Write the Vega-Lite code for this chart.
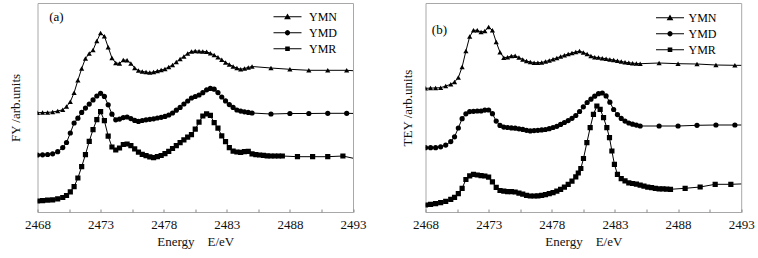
{
  "$schema": "https://vega.github.io/schema/vega-lite/v6.json",
  "padding": {"left": 8.5, "top": 2, "right": 0, "bottom": 0},
  "config": {
    "font": "Liberation Serif",
    "view": {"stroke": "#a8a8a8", "strokeWidth": 1},
    "axis": {"grid": false, "labelFont": "Liberation Serif", "titleFont": "Liberation Serif", "labelFontSize": 13, "titleFontSize": 13, "titleFontWeight": "normal", "labelColor": "#111", "titleColor": "#111"},
    "concat": {"spacing": 34}
  },
  "datasets": {
    "a": [
      {"s":"YMN","E":2468.0,"v":99.3},{"s":"YMN","E":2468.4,"v":99.5},{"s":"YMN","E":2468.8,"v":99.6},{"s":"YMN","E":2469.2,"v":100},{"s":"YMN","E":2469.6,"v":101},{"s":"YMN","E":2470.0,"v":102.2},{"s":"YMN","E":2470.3,"v":105.5},{"s":"YMN","E":2470.6,"v":110.2},{"s":"YMN","E":2470.9,"v":119.3},{"s":"YMN","E":2471.2,"v":131.7},{"s":"YMN","E":2471.5,"v":143.4},{"s":"YMN","E":2471.8,"v":153.6},{"s":"YMN","E":2472.1,"v":158.4},{"s":"YMN","E":2472.4,"v":161.9},{"s":"YMN","E":2472.7,"v":171},{"s":"YMN","E":2473.0,"v":178.9},{"s":"YMN","E":2473.3,"v":175.8},{"s":"YMN","E":2473.6,"v":164.8},{"s":"YMN","E":2473.9,"v":154},{"s":"YMN","E":2474.2,"v":149},{"s":"YMN","E":2474.5,"v":148.6},{"s":"YMN","E":2474.8,"v":152},{"s":"YMN","E":2475.1,"v":151.7},{"s":"YMN","E":2475.4,"v":148.6},{"s":"YMN","E":2475.7,"v":144},{"s":"YMN","E":2476.0,"v":141.4},{"s":"YMN","E":2476.3,"v":140.5},{"s":"YMN","E":2476.6,"v":140},{"s":"YMN","E":2476.9,"v":139.4},{"s":"YMN","E":2477.2,"v":140},{"s":"YMN","E":2477.5,"v":141},{"s":"YMN","E":2477.8,"v":142},{"s":"YMN","E":2478.1,"v":143.1},{"s":"YMN","E":2478.4,"v":145},{"s":"YMN","E":2478.7,"v":147},{"s":"YMN","E":2479.0,"v":150},{"s":"YMN","E":2479.3,"v":153},{"s":"YMN","E":2479.6,"v":155.6},{"s":"YMN","E":2479.9,"v":158.6},{"s":"YMN","E":2480.2,"v":160.5},{"s":"YMN","E":2480.5,"v":161},{"s":"YMN","E":2480.8,"v":160.8},{"s":"YMN","E":2481.1,"v":160.6},{"s":"YMN","E":2481.4,"v":160.2},{"s":"YMN","E":2481.7,"v":158.8},{"s":"YMN","E":2482.0,"v":157},{"s":"YMN","E":2482.3,"v":154.7},{"s":"YMN","E":2482.6,"v":152.2},{"s":"YMN","E":2482.9,"v":149.6},{"s":"YMN","E":2483.2,"v":147.6},{"s":"YMN","E":2483.5,"v":145.6},{"s":"YMN","E":2483.8,"v":143.9},{"s":"YMN","E":2484.1,"v":142.7},{"s":"YMN","E":2484.4,"v":143.6},{"s":"YMN","E":2484.7,"v":144.5},{"s":"YMN","E":2485.0,"v":145.5},{"s":"YMN","E":2486.5,"v":144},{"s":"YMN","E":2488.0,"v":142.7},{"s":"YMN","E":2489.5,"v":141.7},{"s":"YMN","E":2491.0,"v":141.7},{"s":"YMN","E":2492.5,"v":141.7},{"s":"YMN","E":2494.0,"v":140.5},
      {"s":"YMD","E":2468.0,"v":57},{"s":"YMD","E":2468.4,"v":57.2},{"s":"YMD","E":2468.8,"v":57.5},{"s":"YMD","E":2469.2,"v":58.2},{"s":"YMD","E":2469.6,"v":60.3},{"s":"YMD","E":2470.0,"v":64.4},{"s":"YMD","E":2470.3,"v":69.5},{"s":"YMD","E":2470.6,"v":79},{"s":"YMD","E":2470.9,"v":89},{"s":"YMD","E":2471.2,"v":93.8},{"s":"YMD","E":2471.5,"v":99.6},{"s":"YMD","E":2471.8,"v":103.9},{"s":"YMD","E":2472.1,"v":107.9},{"s":"YMD","E":2472.4,"v":112.1},{"s":"YMD","E":2472.7,"v":116},{"s":"YMD","E":2473.0,"v":118.7},{"s":"YMD","E":2473.3,"v":115.6},{"s":"YMD","E":2473.6,"v":107.2},{"s":"YMD","E":2473.9,"v":97.8},{"s":"YMD","E":2474.2,"v":92.2},{"s":"YMD","E":2474.5,"v":92.9},{"s":"YMD","E":2474.8,"v":94.4},{"s":"YMD","E":2475.1,"v":95},{"s":"YMD","E":2475.4,"v":93.4},{"s":"YMD","E":2475.7,"v":91.6},{"s":"YMD","E":2476.0,"v":90.6},{"s":"YMD","E":2476.3,"v":91.5},{"s":"YMD","E":2476.6,"v":92.2},{"s":"YMD","E":2476.9,"v":92.7},{"s":"YMD","E":2477.2,"v":93.2},{"s":"YMD","E":2477.5,"v":94},{"s":"YMD","E":2477.8,"v":94.7},{"s":"YMD","E":2478.1,"v":95.6},{"s":"YMD","E":2478.4,"v":97},{"s":"YMD","E":2478.7,"v":99},{"s":"YMD","E":2479.0,"v":101.8},{"s":"YMD","E":2479.3,"v":104.6},{"s":"YMD","E":2479.6,"v":108},{"s":"YMD","E":2479.9,"v":111},{"s":"YMD","E":2480.2,"v":114},{"s":"YMD","E":2480.5,"v":115.5},{"s":"YMD","E":2480.8,"v":117},{"s":"YMD","E":2481.1,"v":119.3},{"s":"YMD","E":2481.4,"v":122.2},{"s":"YMD","E":2481.7,"v":123.6},{"s":"YMD","E":2482.0,"v":122.8},{"s":"YMD","E":2482.3,"v":119.4},{"s":"YMD","E":2482.6,"v":115},{"s":"YMD","E":2482.9,"v":111.1},{"s":"YMD","E":2483.2,"v":107.4},{"s":"YMD","E":2483.5,"v":104.6},{"s":"YMD","E":2483.8,"v":102},{"s":"YMD","E":2484.1,"v":100.9},{"s":"YMD","E":2484.4,"v":100.2},{"s":"YMD","E":2484.7,"v":99.6},{"s":"YMD","E":2485.0,"v":99},{"s":"YMD","E":2486.5,"v":98},{"s":"YMD","E":2488.0,"v":98.5},{"s":"YMD","E":2489.5,"v":98.5},{"s":"YMD","E":2491.0,"v":98.7},{"s":"YMD","E":2492.5,"v":98.7},{"s":"YMD","E":2494.0,"v":98.3},
      {"s":"YMR","E":2468.0,"v":11},{"s":"YMR","E":2468.4,"v":11.3},{"s":"YMR","E":2468.8,"v":11.8},{"s":"YMR","E":2469.2,"v":12.2},{"s":"YMR","E":2469.6,"v":13.1},{"s":"YMR","E":2470.0,"v":14.5},{"s":"YMR","E":2470.3,"v":16.5},{"s":"YMR","E":2470.6,"v":20.2},{"s":"YMR","E":2470.9,"v":25.3},{"s":"YMR","E":2471.2,"v":34},{"s":"YMR","E":2471.5,"v":45.3},{"s":"YMR","E":2471.8,"v":57.4},{"s":"YMR","E":2472.1,"v":70.7},{"s":"YMR","E":2472.4,"v":82.4},{"s":"YMR","E":2472.7,"v":92.3},{"s":"YMR","E":2473.0,"v":100.3},{"s":"YMR","E":2473.3,"v":91.3},{"s":"YMR","E":2473.6,"v":75.9},{"s":"YMR","E":2473.9,"v":65},{"s":"YMR","E":2474.2,"v":62},{"s":"YMR","E":2474.5,"v":64},{"s":"YMR","E":2474.8,"v":67.5},{"s":"YMR","E":2475.1,"v":68},{"s":"YMR","E":2475.4,"v":66.4},{"s":"YMR","E":2475.7,"v":63.1},{"s":"YMR","E":2476.0,"v":59.8},{"s":"YMR","E":2476.3,"v":57.6},{"s":"YMR","E":2476.6,"v":56.3},{"s":"YMR","E":2476.9,"v":55.2},{"s":"YMR","E":2477.2,"v":54.3},{"s":"YMR","E":2477.5,"v":55.3},{"s":"YMR","E":2477.8,"v":56.5},{"s":"YMR","E":2478.1,"v":58.4},{"s":"YMR","E":2478.4,"v":60.7},{"s":"YMR","E":2478.7,"v":63.5},{"s":"YMR","E":2479.0,"v":66.4},{"s":"YMR","E":2479.3,"v":69.3},{"s":"YMR","E":2479.6,"v":72.1},{"s":"YMR","E":2479.9,"v":74.8},{"s":"YMR","E":2480.2,"v":77.3},{"s":"YMR","E":2480.5,"v":82.8},{"s":"YMR","E":2480.8,"v":89.8},{"s":"YMR","E":2481.1,"v":96},{"s":"YMR","E":2481.4,"v":98.2},{"s":"YMR","E":2481.7,"v":96.6},{"s":"YMR","E":2482.0,"v":89.3},{"s":"YMR","E":2482.3,"v":83.8},{"s":"YMR","E":2482.6,"v":76.2},{"s":"YMR","E":2482.9,"v":70.4},{"s":"YMR","E":2483.2,"v":64.4},{"s":"YMR","E":2483.5,"v":60.9},{"s":"YMR","E":2483.8,"v":60},{"s":"YMR","E":2484.1,"v":59.6},{"s":"YMR","E":2484.4,"v":60.3},{"s":"YMR","E":2484.7,"v":60.6},{"s":"YMR","E":2485.0,"v":58.1},{"s":"YMR","E":2485.3,"v":57.4},{"s":"YMR","E":2485.6,"v":57},{"s":"YMR","E":2485.9,"v":56.6},{"s":"YMR","E":2486.2,"v":56.2},{"s":"YMR","E":2486.5,"v":56},{"s":"YMR","E":2486.8,"v":56},{"s":"YMR","E":2487.1,"v":56},{"s":"YMR","E":2487.4,"v":56},{"s":"YMR","E":2488.6,"v":55.3},{"s":"YMR","E":2489.8,"v":55.3},{"s":"YMR","E":2491.0,"v":55.3},{"s":"YMR","E":2492.2,"v":56},{"s":"YMR","E":2494.0,"v":51}
    ],
    "b": [
      {"s":"YMN","E":2468.0,"v":123.7},{"s":"YMN","E":2468.4,"v":123.9},{"s":"YMN","E":2468.8,"v":124.1},{"s":"YMN","E":2469.2,"v":124.3},{"s":"YMN","E":2469.6,"v":126},{"s":"YMN","E":2470.0,"v":127.7},{"s":"YMN","E":2470.3,"v":130},{"s":"YMN","E":2470.6,"v":134.5},{"s":"YMN","E":2470.9,"v":145},{"s":"YMN","E":2471.2,"v":161},{"s":"YMN","E":2471.5,"v":175.4},{"s":"YMN","E":2471.8,"v":181.7},{"s":"YMN","E":2472.1,"v":181.7},{"s":"YMN","E":2472.4,"v":180},{"s":"YMN","E":2472.7,"v":181},{"s":"YMN","E":2473.0,"v":185},{"s":"YMN","E":2473.3,"v":181.7},{"s":"YMN","E":2473.6,"v":170},{"s":"YMN","E":2473.9,"v":159.8},{"s":"YMN","E":2474.2,"v":154.3},{"s":"YMN","E":2474.5,"v":154.8},{"s":"YMN","E":2474.8,"v":156},{"s":"YMN","E":2475.1,"v":156.2},{"s":"YMN","E":2475.4,"v":154.5},{"s":"YMN","E":2475.7,"v":152.6},{"s":"YMN","E":2476.0,"v":150.9},{"s":"YMN","E":2476.3,"v":150.1},{"s":"YMN","E":2476.6,"v":149.3},{"s":"YMN","E":2476.9,"v":149.3},{"s":"YMN","E":2477.2,"v":149.5},{"s":"YMN","E":2477.5,"v":150.5},{"s":"YMN","E":2477.8,"v":151.6},{"s":"YMN","E":2478.1,"v":152.8},{"s":"YMN","E":2478.4,"v":154.1},{"s":"YMN","E":2478.7,"v":155.4},{"s":"YMN","E":2479.0,"v":156.8},{"s":"YMN","E":2479.3,"v":157.9},{"s":"YMN","E":2479.6,"v":159.1},{"s":"YMN","E":2479.9,"v":160},{"s":"YMN","E":2480.2,"v":160.9},{"s":"YMN","E":2480.5,"v":159.6},{"s":"YMN","E":2480.8,"v":157.9},{"s":"YMN","E":2481.1,"v":156.1},{"s":"YMN","E":2481.4,"v":154.8},{"s":"YMN","E":2481.7,"v":154.4},{"s":"YMN","E":2482.0,"v":153.8},{"s":"YMN","E":2482.3,"v":153.3},{"s":"YMN","E":2482.6,"v":152.6},{"s":"YMN","E":2482.9,"v":152},{"s":"YMN","E":2483.2,"v":151.2},{"s":"YMN","E":2483.5,"v":150.5},{"s":"YMN","E":2483.8,"v":149.8},{"s":"YMN","E":2484.1,"v":149.3},{"s":"YMN","E":2484.4,"v":148.8},{"s":"YMN","E":2484.7,"v":148.5},{"s":"YMN","E":2485.0,"v":148.3},{"s":"YMN","E":2486.5,"v":149},{"s":"YMN","E":2488.0,"v":148.3},{"s":"YMN","E":2489.5,"v":148},{"s":"YMN","E":2491.0,"v":147},{"s":"YMN","E":2492.5,"v":146.7},{"s":"YMN","E":2494.0,"v":146.5},
      {"s":"YMD","E":2468.0,"v":64.3},{"s":"YMD","E":2468.4,"v":64.3},{"s":"YMD","E":2468.8,"v":64.3},{"s":"YMD","E":2469.2,"v":65.2},{"s":"YMD","E":2469.6,"v":66.9},{"s":"YMD","E":2470.0,"v":70.4},{"s":"YMD","E":2470.3,"v":75.2},{"s":"YMD","E":2470.6,"v":84},{"s":"YMD","E":2470.9,"v":93.3},{"s":"YMD","E":2471.2,"v":98.2},{"s":"YMD","E":2471.5,"v":100.4},{"s":"YMD","E":2471.8,"v":100.7},{"s":"YMD","E":2472.1,"v":101},{"s":"YMD","E":2472.4,"v":101},{"s":"YMD","E":2472.7,"v":101.9},{"s":"YMD","E":2473.0,"v":102},{"s":"YMD","E":2473.3,"v":98.3},{"s":"YMD","E":2473.6,"v":90.9},{"s":"YMD","E":2473.9,"v":86.6},{"s":"YMD","E":2474.2,"v":84.9},{"s":"YMD","E":2474.5,"v":84.5},{"s":"YMD","E":2474.8,"v":84.1},{"s":"YMD","E":2475.1,"v":83.8},{"s":"YMD","E":2475.4,"v":83.2},{"s":"YMD","E":2475.7,"v":82.6},{"s":"YMD","E":2476.0,"v":81.7},{"s":"YMD","E":2476.3,"v":81.1},{"s":"YMD","E":2476.6,"v":81.4},{"s":"YMD","E":2476.9,"v":81.7},{"s":"YMD","E":2477.2,"v":82.1},{"s":"YMD","E":2477.5,"v":82.5},{"s":"YMD","E":2477.8,"v":83.3},{"s":"YMD","E":2478.1,"v":84.5},{"s":"YMD","E":2478.4,"v":85.7},{"s":"YMD","E":2478.7,"v":87.6},{"s":"YMD","E":2479.0,"v":89.5},{"s":"YMD","E":2479.3,"v":91.4},{"s":"YMD","E":2479.6,"v":93.7},{"s":"YMD","E":2479.9,"v":96.5},{"s":"YMD","E":2480.2,"v":100.5},{"s":"YMD","E":2480.5,"v":105.2},{"s":"YMD","E":2480.8,"v":109.5},{"s":"YMD","E":2481.1,"v":112.8},{"s":"YMD","E":2481.4,"v":115.8},{"s":"YMD","E":2481.7,"v":118.3},{"s":"YMD","E":2482.0,"v":119},{"s":"YMD","E":2482.3,"v":116.1},{"s":"YMD","E":2482.6,"v":109.8},{"s":"YMD","E":2482.9,"v":102.5},{"s":"YMD","E":2483.2,"v":97.4},{"s":"YMD","E":2483.5,"v":93.6},{"s":"YMD","E":2483.8,"v":90.9},{"s":"YMD","E":2484.1,"v":89},{"s":"YMD","E":2484.4,"v":87.8},{"s":"YMD","E":2484.7,"v":86.9},{"s":"YMD","E":2485.0,"v":86},{"s":"YMD","E":2486.5,"v":86},{"s":"YMD","E":2488.0,"v":86},{"s":"YMD","E":2489.5,"v":86.7},{"s":"YMD","E":2491.0,"v":87},{"s":"YMD","E":2492.5,"v":87},{"s":"YMD","E":2494.0,"v":87},
      {"s":"YMR","E":2468.0,"v":7},{"s":"YMR","E":2468.4,"v":7.7},{"s":"YMR","E":2468.8,"v":8.4},{"s":"YMR","E":2469.2,"v":9.4},{"s":"YMR","E":2469.6,"v":10.6},{"s":"YMR","E":2470.0,"v":12.6},{"s":"YMR","E":2470.3,"v":14.7},{"s":"YMR","E":2470.6,"v":18.4},{"s":"YMR","E":2470.9,"v":23.7},{"s":"YMR","E":2471.2,"v":32.5},{"s":"YMR","E":2471.5,"v":36.2},{"s":"YMR","E":2471.8,"v":37.6},{"s":"YMR","E":2472.1,"v":37},{"s":"YMR","E":2472.4,"v":36.3},{"s":"YMR","E":2472.7,"v":36},{"s":"YMR","E":2473.0,"v":34.9},{"s":"YMR","E":2473.3,"v":30.1},{"s":"YMR","E":2473.6,"v":24.6},{"s":"YMR","E":2473.9,"v":21.5},{"s":"YMR","E":2474.2,"v":20.8},{"s":"YMR","E":2474.5,"v":20.3},{"s":"YMR","E":2474.8,"v":20.3},{"s":"YMR","E":2475.1,"v":20},{"s":"YMR","E":2475.4,"v":18.9},{"s":"YMR","E":2475.7,"v":17.8},{"s":"YMR","E":2476.0,"v":16.7},{"s":"YMR","E":2476.3,"v":16},{"s":"YMR","E":2476.6,"v":16},{"s":"YMR","E":2476.9,"v":16.1},{"s":"YMR","E":2477.2,"v":16.7},{"s":"YMR","E":2477.5,"v":17.4},{"s":"YMR","E":2477.8,"v":18.3},{"s":"YMR","E":2478.1,"v":19.4},{"s":"YMR","E":2478.4,"v":20.8},{"s":"YMR","E":2478.7,"v":22.7},{"s":"YMR","E":2479.0,"v":24.9},{"s":"YMR","E":2479.3,"v":27.6},{"s":"YMR","E":2479.6,"v":30.8},{"s":"YMR","E":2479.9,"v":35.1},{"s":"YMR","E":2480.1,"v":39},{"s":"YMR","E":2480.3,"v":43.5},{"s":"YMR","E":2480.51,"v":53.5},{"s":"YMR","E":2480.78,"v":69.3},{"s":"YMR","E":2481.04,"v":84.3},{"s":"YMR","E":2481.3,"v":97.7},{"s":"YMR","E":2481.57,"v":106},{"s":"YMR","E":2481.83,"v":102.7},{"s":"YMR","E":2482.1,"v":94.3},{"s":"YMR","E":2482.36,"v":84.3},{"s":"YMR","E":2482.57,"v":74.3},{"s":"YMR","E":2482.76,"v":61},{"s":"YMR","E":2482.96,"v":47.7},{"s":"YMR","E":2483.2,"v":37.7},{"s":"YMR","E":2483.5,"v":33.4},{"s":"YMR","E":2483.8,"v":31.1},{"s":"YMR","E":2484.1,"v":29.2},{"s":"YMR","E":2484.4,"v":28.5},{"s":"YMR","E":2484.7,"v":27.8},{"s":"YMR","E":2485.0,"v":26.9},{"s":"YMR","E":2485.3,"v":25.8},{"s":"YMR","E":2485.6,"v":24.9},{"s":"YMR","E":2485.9,"v":24.3},{"s":"YMR","E":2486.2,"v":23.6},{"s":"YMR","E":2486.5,"v":23.2},{"s":"YMR","E":2486.8,"v":23.1},{"s":"YMR","E":2487.1,"v":22.9},{"s":"YMR","E":2487.4,"v":22.7},{"s":"YMR","E":2488.56,"v":23.7},{"s":"YMR","E":2489.75,"v":25},{"s":"YMR","E":2490.94,"v":27.7},{"s":"YMR","E":2492.18,"v":27.7},{"s":"YMR","E":2494.0,"v":28.5}
    ]
  },
  "hconcat": [
    {
      "width": 315.5,
      "height": 209,
      "data": {"name": "a"},
      "encoding": {
        "x": {"field": "E", "type": "quantitative", "scale": {"domain": [2468, 2493], "nice": false, "zero": false},
          "axis": {"values": [2468, 2470.5, 2473, 2475.5, 2478, 2480.5, 2483, 2485.5, 2488, 2490.5, 2493], "format": "d", "labelExpr": "(datum.value - 2468) % 5 == 0 ? datum.label : ''", "tickSize": -3, "tickColor": "#888", "domain": false, "labelPadding": 9, "labelFlush": false, "labelOverlap": false, "title": "Energy\u00a0\u00a0\u00a0\u00a0E/eV", "titlePadding": 4}},
        "y": {"field": "v", "type": "quantitative", "scale": {"domain": [0, 209], "nice": false, "zero": false},
          "axis": {"title": "FY /arb.units", "labels": false, "ticks": false, "domain": false, "titlePadding": 15, "minExtent": 0}}
      },
      "layer": [
        {"mark": {"type": "line", "color": "#000", "strokeWidth": 1, "clip": true}, "encoding": {"detail": {"field": "s"}}},
        {"mark": {"type": "point", "filled": true, "color": "#000", "opacity": 1, "size": 27, "clip": true},
          "encoding": {"shape": {"field": "s", "type": "nominal", "scale": {"domain": ["YMN", "YMD", "YMR"], "range": ["triangle-up", "circle", "square"]}, "legend": null}}},
        {"transform": [{"filter": "datum.E > 2493.5"}],
          "mark": {"type": "point", "filled": true, "fill": "#000", "opacity": 1, "size": 27, "clip": true},
          "encoding": {"shape": {"field": "s", "type": "nominal", "scale": {"domain": ["YMN", "YMD", "YMR"], "range": [
            "M-1,-0.04L1,-0.04L1,0.04L-1,0.04ZM0,-0.24L0.24,0.17L-0.24,0.17Z",
            "M-1,-0.04L1,-0.04L1,0.04L-1,0.04ZM0.19,0L0.1645,0.095L0.095,0.1645L0,0.19L-0.095,0.1645L-0.1645,0.095L-0.19,0L-0.1645,-0.095L-0.095,-0.1645L0,-0.19L0.095,-0.1645L0.1645,-0.095Z",
            "M-1,-0.04L1,-0.04L1,0.04L-1,0.04ZM-0.165,-0.165L0.165,-0.165L0.165,0.165L-0.165,0.165Z"]},
            "legend": {"title": null, "orient": "none", "legendX": 235, "legendY": 6, "padding": 0, "rowPadding": 0, "clipHeight": 15.5, "labelOffset": 6.5, "labelFont": "Liberation Serif", "labelFontSize": 12, "labelColor": "#000", "symbolSize": 784, "symbolFillColor": "#000"}}}},
        {"data": {"values": [{"t": "(a)", "E": 2468.93, "v": 195}]}, "mark": {"type": "text", "align": "left", "baseline": "middle", "fontSize": 13, "font": "Liberation Serif", "color": "#000"},
          "encoding": {"text": {"field": "t", "type": "nominal"}}}
      ],
      "resolve": {"scale": {"shape": "independent"}, "legend": {"shape": "independent"}}
    },
    {
      "width": 315.7,
      "height": 209,
      "data": {"name": "b"},
      "encoding": {
        "x": {"field": "E", "type": "quantitative", "scale": {"domain": [2468, 2493], "nice": false, "zero": false},
          "axis": {"values": [2468, 2470.5, 2473, 2475.5, 2478, 2480.5, 2483, 2485.5, 2488, 2490.5, 2493], "format": "d", "labelExpr": "(datum.value - 2468) % 5 == 0 ? datum.label : ''", "tickSize": -3, "tickColor": "#888", "domain": false, "labelPadding": 9, "labelFlush": false, "labelOverlap": false, "title": "Energy\u00a0\u00a0\u00a0\u00a0E/eV", "titlePadding": 4}},
        "y": {"field": "v", "type": "quantitative", "scale": {"domain": [0, 209], "nice": false, "zero": false},
          "axis": {"title": "TEY /arb.units", "labels": false, "ticks": false, "domain": false, "titlePadding": 11, "minExtent": 0}}
      },
      "layer": [
        {"mark": {"type": "line", "color": "#000", "strokeWidth": 1, "clip": true}, "encoding": {"detail": {"field": "s"}}},
        {"mark": {"type": "point", "filled": true, "color": "#000", "opacity": 1, "size": 27, "clip": true},
          "encoding": {"shape": {"field": "s", "type": "nominal", "scale": {"domain": ["YMN", "YMD", "YMR"], "range": ["triangle-up", "circle", "square"]}, "legend": null}}},
        {"transform": [{"filter": "datum.E > 2493.5"}],
          "mark": {"type": "point", "filled": true, "fill": "#000", "opacity": 1, "size": 27, "clip": true},
          "encoding": {"shape": {"field": "s", "type": "nominal", "scale": {"domain": ["YMN", "YMD", "YMR"], "range": [
            "M-1,-0.04L1,-0.04L1,0.04L-1,0.04ZM0,-0.24L0.24,0.17L-0.24,0.17Z",
            "M-1,-0.04L1,-0.04L1,0.04L-1,0.04ZM0.19,0L0.1645,0.095L0.095,0.1645L0,0.19L-0.095,0.1645L-0.1645,0.095L-0.19,0L-0.1645,-0.095L-0.095,-0.1645L0,-0.19L0.095,-0.1645L0.1645,-0.095Z",
            "M-1,-0.04L1,-0.04L1,0.04L-1,0.04ZM-0.165,-0.165L0.165,-0.165L0.165,0.165L-0.165,0.165Z"]},
            "legend": {"title": null, "orient": "none", "legendX": 229.5, "legendY": 7, "padding": 0, "rowPadding": 0, "clipHeight": 15.5, "labelOffset": 3.5, "labelFont": "Liberation Serif", "labelFontSize": 12, "labelColor": "#000", "symbolSize": 784, "symbolFillColor": "#000"}}}},
        {"data": {"values": [{"t": "(b)", "E": 2468.5, "v": 182}]}, "mark": {"type": "text", "align": "left", "baseline": "middle", "fontSize": 13, "font": "Liberation Serif", "color": "#000"},
          "encoding": {"text": {"field": "t", "type": "nominal"}}}
      ],
      "resolve": {"scale": {"shape": "independent"}, "legend": {"shape": "independent"}}
    }
  ],
  "resolve": {"scale": {"x": "independent", "y": "independent", "shape": "independent"}, "legend": {"shape": "independent"}}
}
